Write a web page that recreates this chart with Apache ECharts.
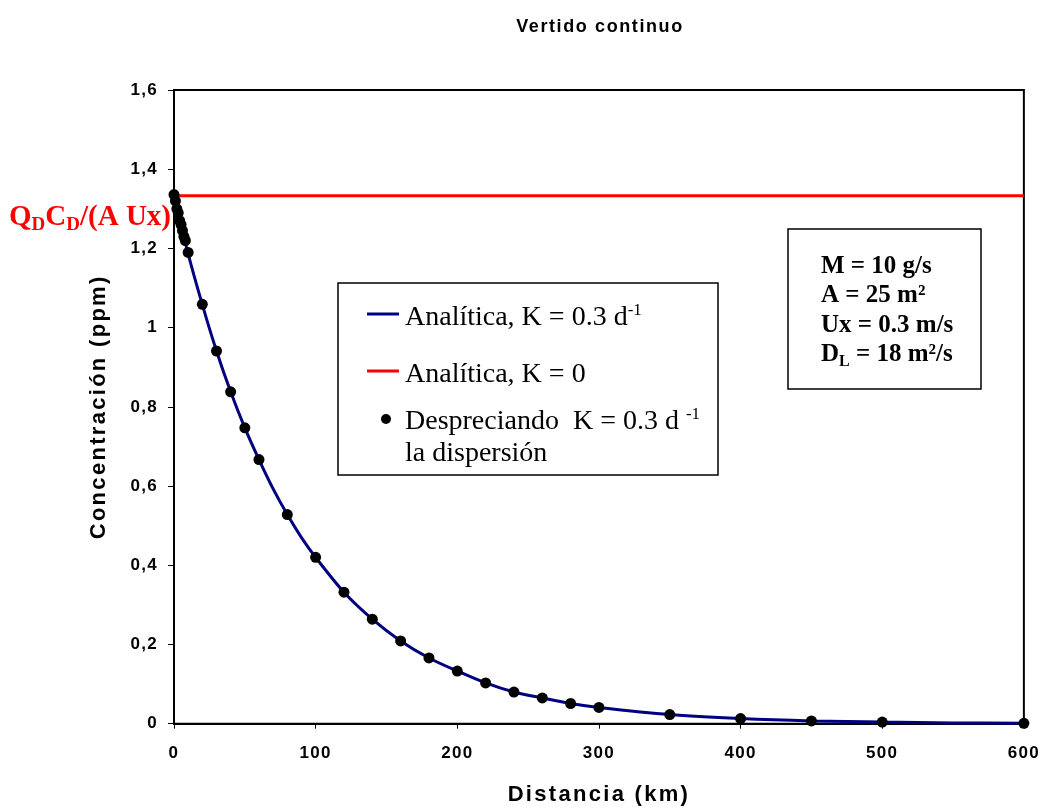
<!DOCTYPE html>
<html>
<head>
<meta charset="utf-8">
<script src="https://cdn.jsdelivr.net/npm/echarts@6/dist/echarts.min.js"></script>
<style>
  html, body { margin: 0; padding: 0; background: #fff; }
  #chart { width: 1043px; height: 812px; }
</style>
</head>
<body>
<div id="chart"></div>
<script>
// distancia (km) y concentración (ppm)
const lineX = [0, 10, 20, 30, 40, 50, 60, 70, 80, 90, 100, 120, 140, 160, 180, 200, 220, 240, 260, 280, 300, 350, 400, 450, 500, 550, 600]
const lineY = [1.333, 1.186, 1.058, 0.941, 0.838, 0.747, 0.667, 0.593, 0.528, 0.470, 0.420, 0.332, 0.264, 0.209, 0.166, 0.133, 0.103, 0.080, 0.065, 0.051, 0.041, 0.023, 0.013, 0.007, 0.004, 0.002, 0.001]
const noDispX = [0, 1, 2, 3, 4, 5, 6, 7, 8, 10, 20, 30, 40, 50, 60, 80, 100, 120, 140, 160, 180, 200, 220, 240, 260, 280, 300, 350, 400, 450, 500, 600]
const noDispY = [1.336, 1.32, 1.30, 1.29, 1.27, 1.26, 1.245, 1.23, 1.22, 1.19, 1.059, 0.941, 0.838, 0.747, 0.667, 0.528, 0.420, 0.332, 0.264, 0.209, 0.166, 0.133, 0.103, 0.080, 0.065, 0.051, 0.041, 0.023, 0.013, 0.007, 0.004, 0.001]
const k0X = [0, 600]
const k0Y = [1.3333, 1.3333]

const serif = '"Liberation Serif", "Times New Roman", serif'
const sans = '"Liberation Sans", Arial, sans-serif'

// el original (Excel) usa Arial algo espaciada; espaciado por tamaño de fuente
const sansSpacing = { 17: 1.3, 18: 1.6, 22: 2.3 }
const proto = CanvasRenderingContext2D.prototype
;['fillText', 'measureText'].forEach(fn => {
  const orig = proto[fn]
  proto[fn] = function (...args) {
    if ('letterSpacing' in this) {
      const m = /(\d+)px/.exec(this.font)
      const s = /Liberation Sans/.test(this.font) && m ? (sansSpacing[m[1]] || 0) : 0
      this.letterSpacing = s + 'px'
    }
    return orig.apply(this, args)
  }
})

const zip = (xs, ys) => xs.map((x, i) => [x, ys[i]])

const chart = echarts.init(document.getElementById('chart'))

const richMain = (size, bold) => ({
  n: { fontSize: size, fontFamily: serif, fontWeight: bold ? 'bold' : 'normal', lineHeight: size + 4, verticalAlign: 'middle' },
  sup: { fontSize: Math.round(size * 0.62), fontFamily: serif, fontWeight: bold ? 'bold' : 'normal', lineHeight: 8, verticalAlign: 'top' },
  sub: { fontSize: Math.round(size * 0.65), fontFamily: serif, fontWeight: bold ? 'bold' : 'normal', lineHeight: 10, verticalAlign: 'bottom' }
})

const legendText = (y, text) => ({
  type: 'text', z: 11,
  style: { x: 405, y: y, text: text, rich: richMain(28, false), fill: '#000', verticalAlign: 'middle', align: 'left' }
})
const paramText = (y, text) => ({
  type: 'text', z: 11,
  style: { x: 821, y: y, text: text, rich: richMain(25, true), fill: '#000', verticalAlign: 'middle', align: 'left' }
})

const option = {
  animation: false,
  backgroundColor: '#fff',
  title: {
    text: 'Vertido continuo',
    left: 595,
    textAlign: 'center',
    top: 12,
    textStyle: { fontFamily: sans, fontWeight: 'bold', fontSize: 18, color: '#000' }
  },
  grid: {
    left: 174, right: 18, top: 90, bottom: 86,
    show: true, borderColor: '#000', borderWidth: 2, backgroundColor: '#fff'
  },
  xAxis: {
    type: 'value', min: 0, max: 600, interval: 100,
    name: 'Distancia (km)', nameLocation: 'middle', nameGap: 59,
    nameTextStyle: { fontFamily: sans, fontWeight: 'bold', fontSize: 22, color: '#000' },
    axisLine: { lineStyle: { color: '#000', width: 2 } },
    axisTick: { show: true, length: 5, lineStyle: { color: '#000', width: 1 } },
    axisLabel: { fontFamily: sans, fontWeight: 'bold', fontSize: 17, color: '#000', margin: 20 },
    splitLine: { show: false }
  },
  yAxis: {
    type: 'value', min: 0, max: 1.6, interval: 0.2,
    name: 'Concentración (ppm)', nameLocation: 'middle', nameGap: 63, nameRotate: 90,
    nameTextStyle: { fontFamily: sans, fontWeight: 'bold', fontSize: 22, color: '#000' },
    axisLine: { lineStyle: { color: '#000', width: 2 } },
    axisTick: { show: true, length: 6, lineStyle: { color: '#000', width: 1 } },
    axisLabel: {
      fontFamily: sans, fontWeight: 'bold', fontSize: 17, color: '#000', margin: 16,
      formatter: v => String(Math.round(v * 10) / 10).replace('.', ',')
    },
    splitLine: { show: false }
  },
  series: [
    {
      name: 'Analítica, K = 0', type: 'line', data: zip(k0X, k0Y),
      showSymbol: false, lineStyle: { color: '#ff0000', width: 3 }, z: 2
    },
    {
      name: 'Analítica, K = 0.3 d-1', type: 'line', data: zip(lineX, lineY),
      smooth: 0.3, showSymbol: false, lineStyle: { color: '#000080', width: 3 }, z: 3
    },
    {
      name: 'Despreciando la dispersión', type: 'scatter', data: zip(noDispX, noDispY),
      symbol: 'circle', symbolSize: 11, itemStyle: { color: '#000', opacity: 1 }, z: 4
    }
  ],
  graphic: [
    // etiqueta roja
    {
      type: 'text', z: 10,
      style: {
        x: 171, y: 218, align: 'right', verticalAlign: 'middle',
        text: '{n|Q}{sub|D}{n|C}{sub|D}{n|/(A Ux)}',
        rich: richMain(29, true), fill: '#ff0000'
      }
    },
    // leyenda
    { type: 'rect', shape: { x: 338, y: 283, width: 380, height: 192 }, style: { fill: '#fff', stroke: '#000', lineWidth: 1.5 }, z: 10 },
    { type: 'line', shape: { x1: 367, y1: 314, x2: 399, y2: 314 }, style: { stroke: '#000080', lineWidth: 3 }, z: 11 },
    { type: 'line', shape: { x1: 367, y1: 371, x2: 399, y2: 371 }, style: { stroke: '#ff0000', lineWidth: 3 }, z: 11 },
    { type: 'circle', shape: { cx: 386, cy: 419, r: 5 }, style: { fill: '#000' }, z: 11 },
    legendText(318, '{n|Analítica, K = 0.3 d}{sup|-1}'),
    legendText(375, '{n|Analítica, K = 0}'),
    legendText(422, '{n|Despreciando  K = 0.3 d }{sup|-1}'),
    legendText(454, '{n|la dispersión}'),
    // parámetros
    { type: 'rect', shape: { x: 788, y: 229, width: 193, height: 160 }, style: { fill: '#fff', stroke: '#000', lineWidth: 1.5 }, z: 10 },
    paramText(267, '{n|M = 10 g/s}'),
    paramText(296, '{n|A = 25 m²}'),
    paramText(326, '{n|Ux = 0.3 m/s}'),
    paramText(355, '{n|D}{sub|L}{n| = 18 m²/s}')
  ]
}

chart.setOption(option)
</script>
</body>
</html>
